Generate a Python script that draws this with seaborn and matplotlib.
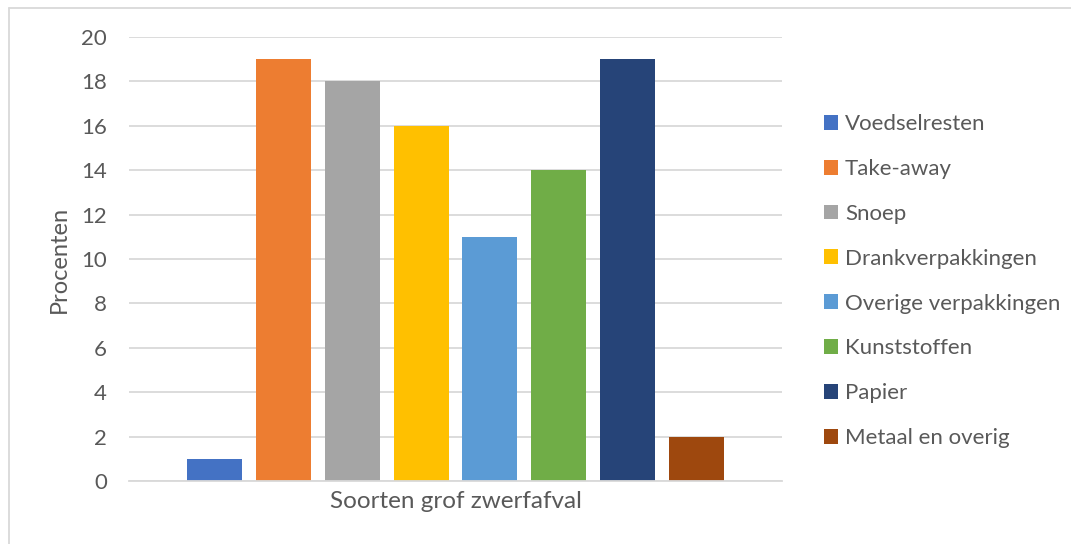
import pandas as pd
import seaborn as sns
import matplotlib.pyplot as plt
from matplotlib.lines import Line2D

# data
categories = ['Voedselresten', 'Take-away', 'Snoep', 'Drankverpakkingen',
              'Overige verpakkingen', 'Kunststoffen', 'Papier', 'Metaal en overig']
percentages = [1, 19, 18, 16, 11, 14, 19, 2]
colors = ['#4472C4', '#ED7D31', '#A5A5A5', '#FFC000',
          '#5B9BD5', '#70AD47', '#264478', '#9E480E']
group_label = 'Soorten grof zwerfafval'
y_ticks = [0, 2, 4, 6, 8, 10, 12, 14, 16, 18, 20]

df = pd.DataFrame({'soort': group_label, 'categorie': categories, 'procent': percentages})

sns.set_theme(style='white')
plt.rcParams['font.family'] = ['Lato', 'DejaVu Sans']
text_color = '#595959'
grid_color = '#D9D9D9'

W, H = 1071, 544
fig = plt.figure(figsize=(W / 100, H / 100), dpi=100)
ax = fig.add_axes([129 / W, 1 - 481 / H, (782 - 129) / W, (481 - 37) / H])

sns.barplot(data=df, x='soort', y='procent', hue='categorie', hue_order=categories,
            palette=colors, width=0.842, gap=0.2, saturation=1, linewidth=0, ax=ax)

ax.set_ylim(0, 20)
ax.set_yticks(y_ticks)
ax.set_xticks([])
ax.grid(axis='y', color=grid_color, linewidth=1.3)
ax.set_axisbelow(True)
for side in ['left', 'right', 'top']:
    ax.spines[side].set_visible(False)
ax.spines['bottom'].set_color(grid_color)
ax.spines['bottom'].set_linewidth(1.3)
ax.tick_params(axis='y', length=0, pad=16, labelsize=16, labelcolor=text_color)

ax.set_xlabel(group_label, fontsize=17.5, color=text_color, labelpad=7)
ax.set_ylabel('Procenten', fontsize=17, color=text_color, labelpad=8)

sns.move_legend(ax, 'upper left', bbox_to_anchor=(824 / W, 1 - 114 / H),
                bbox_transform=fig.transFigure, frameon=False, title=None,
                fontsize=16, labelcolor=text_color, handlelength=0.65, handleheight=0.65,
                handletextpad=0.3, labelspacing=1.12, borderpad=0, borderaxespad=0)

# light chart border (cropped on the right and bottom)
fig.add_artist(Line2D([8.5 / W, 8.5 / W], [0, 1 - 8 / H], color=grid_color, linewidth=1.3,
                      transform=fig.transFigure))
fig.add_artist(Line2D([8.5 / W, 1], [1 - 8 / H, 1 - 8 / H], color=grid_color, linewidth=1.3,
                      transform=fig.transFigure))

fig.savefig('out.png', dpi=100)
